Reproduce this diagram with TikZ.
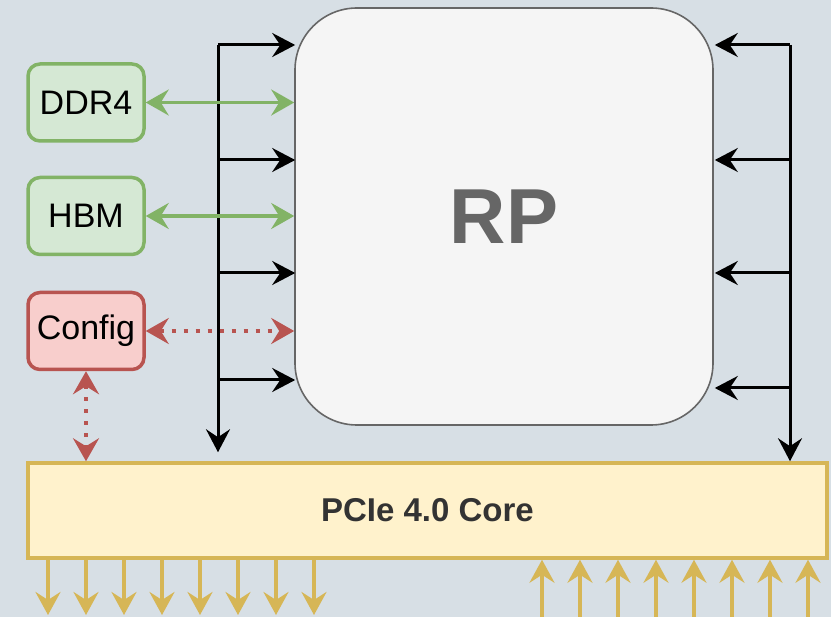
\documentclass[tikz,border=0pt]{standalone}
\usepackage{fontspec}
\setmainfont{Liberation Sans}
\usepackage{xcolor}
\usepackage{tikz}
\usetikzlibrary{arrows.meta,positioning,calc}
\definecolor{bgcol}{RGB}{215,223,229}
\definecolor{memfill}{HTML}{D5E8D4}
\definecolor{memdraw}{HTML}{82B366}
\definecolor{cfgfill}{HTML}{F8CECC}
\definecolor{cfgdraw}{HTML}{B85450}
\definecolor{corefill}{HTML}{FFF2CC}
\definecolor{coredraw}{HTML}{D6B656}
\definecolor{rpfill}{HTML}{F5F5F5}
\definecolor{rpdraw}{HTML}{666666}
\definecolor{coretext}{HTML}{333333}
\tikzset{
  rpbox/.style={
    rectangle, rounded corners=62pt, draw=rpdraw, fill=rpfill, line width=1.6pt,
    text=rpdraw, font=\fontsize{78}{80}\selectfont\bfseries
  },
  membox/.style={
    rectangle, rounded corners=12pt, draw=memdraw, fill=memfill, line width=3.5pt,
    minimum width=116pt, minimum height=77pt, font=\fontsize{34}{36}\selectfont
  },
  cfgbox/.style={membox, draw=cfgdraw, fill=cfgfill},
  corebox/.style={
    rectangle, draw=coredraw, fill=corefill, line width=3.5pt,
    text=coretext, font=\fontsize{33}{35}\selectfont\bfseries
  },
  busline/.style={-{Stealth[length=23pt,width=24pt,inset=8pt]},line width=3pt,black},
  busarrow/.style={busline,shorten >=-1pt},
  memlink/.style={{Stealth[length=23pt,width=26pt,inset=8pt]}-{Stealth[length=23pt,width=26pt,inset=8pt]},line width=3.5pt,memdraw},
  cfglink/.style={{Stealth[length=23pt,width=26pt,inset=8pt]}-{Stealth[length=23pt,width=26pt,inset=8pt]},line width=3.5pt,cfgdraw,dash pattern=on 4pt off 8pt},
  lanearrow/.style={-{Stealth[length=23pt,width=25pt,inset=8pt]},line width=3.5pt,coredraw}
}

\begin{document}
\begin{tikzpicture}[x=1pt,y=-1pt]
  \fill[bgcol] (0,0) rectangle (831,617);
  \useasboundingbox (0,0) rectangle (831,617);
  % blocks
  \node[rpbox,minimum width=418pt,minimum height=417pt] (rp) at (504,216.5) {RP};
  \node[membox] (ddr) at (86,102.5) {DDR4};
  \node[membox] (hbm) at (86,216) {HBM};
  \node[cfgbox] (cfg) at (86,331) {Config};
  \node[corebox,minimum width=799pt,minimum height=95pt] (pcie) at (427.5,510.5) {PCIe 4.0 Core};
  % left bus, core towards RP
  \coordinate (lbus) at (218,45);
  \draw[busline] (lbus) -- ($(lbus |- pcie.north)+(0,-9)$);
  \foreach \y [count=\i] in {45,160,273,380} {
    \coordinate (l\i) at (218,\y);
    \draw[busarrow] (l\i) -- (l\i -| rp.west);
  }
  % right bus, RP towards core
  \coordinate (rbus) at (790,45);
  \draw[busline] (rbus) -- (rbus |- pcie.north);
  \foreach \y [count=\i] in {45,160,273,388} {
    \coordinate (r\i) at (790,\y);
    \draw[busarrow] (r\i) -- ($(r\i -| rp.east)+(2,0)$);
  }
  % memories and config
  \draw[memlink] (ddr) -- (ddr -| rp.west);
  \draw[memlink] (hbm) -- (hbm -| rp.west);
  \draw[cfglink] (cfg) -- (cfg -| rp.west);
  \draw[cfglink] (cfg) -- (cfg |- pcie.north);
  % serial lanes
  \foreach \i in {0,...,7} {
    \coordinate (tx\i) at ({48+38*\i},615);
    \coordinate (rx\i) at ({542+38*\i},617);
    \draw[lanearrow] (tx\i |- pcie.south) -- (tx\i);
    \draw[lanearrow] (rx\i) -- (rx\i |- pcie.south);
  }
\end{tikzpicture}
\end{document}
